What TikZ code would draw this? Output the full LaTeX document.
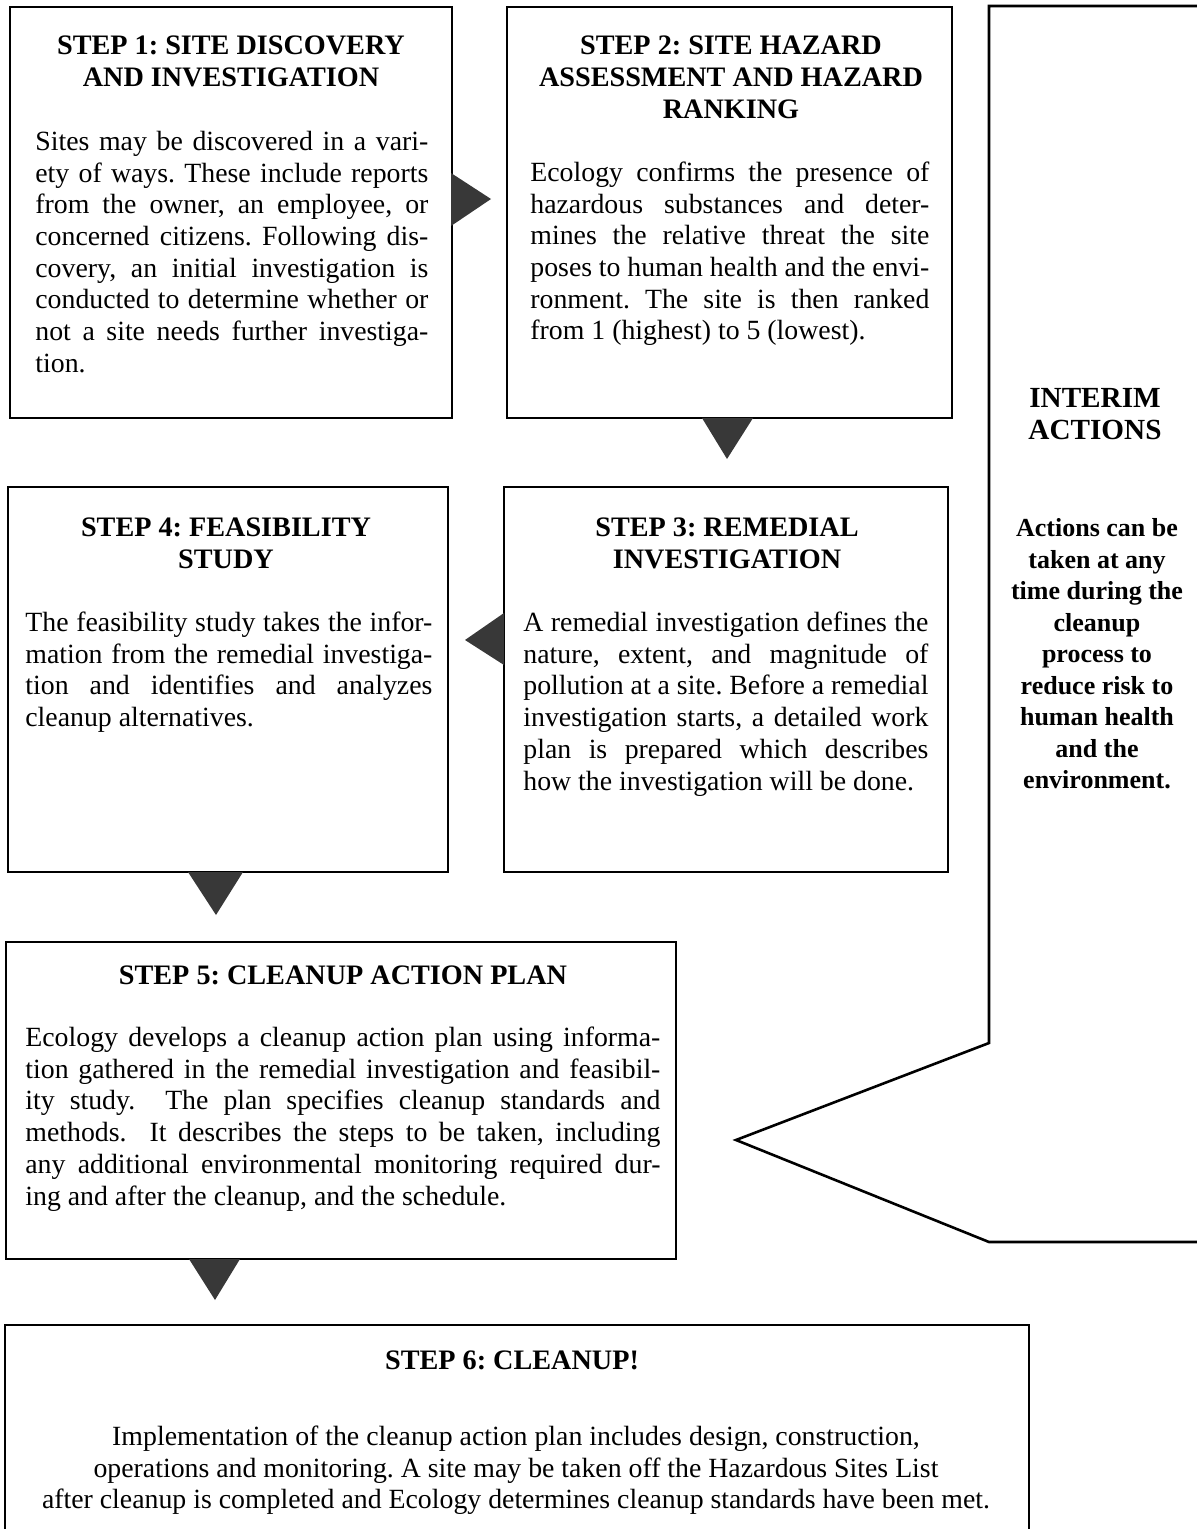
\documentclass[tikz,border=0pt]{standalone}
\usepackage{fontspec}
\setmainfont{Liberation Serif}
\frenchspacing
\hfuzz=40pt \hbadness=10000 \lineskiplimit=-20pt
\newcommand\JL[1]{\hbox to\hsize{#1}}
\newcommand\LL[1]{\hbox to\hsize{#1\hfil}}
\newcommand\CL[1]{\hbox to\hsize{\hfil#1\hfil}}
\newcommand\bodyfont{\fontsize{13.9}{15.85}\selectfont}
\newcommand\titlefont{\fontsize{14.1}{16}\selectfont\bfseries}
\newcommand\intfont{\fontsize{13}{15.75}\selectfont\bfseries}
\newcommand\inttitlefont{\fontsize{14.6}{16}\selectfont\bfseries}
\tikzset{
  boxline/.style={draw=black, line width=1.3pt, line join=miter},
  tri/.style={fill=black!78},
  ctext/.style={inner sep=0pt, anchor=base},
  ltext/.style={inner sep=0pt, anchor=base west},
}
\begin{document}
\begin{tikzpicture}[x=0.5pt,y=-0.5pt]
\useasboundingbox (0,0) rectangle (1197,1529);
\clip (0,0) rectangle (1197,1529);
% box corners
\coordinate (s1nw) at (10,7);   \coordinate (s1se) at (452,418);
\coordinate (s2nw) at (507,7);  \coordinate (s2se) at (952,418);
\coordinate (s4nw) at (8,487);  \coordinate (s4se) at (448,872);
\coordinate (s3nw) at (504,487);\coordinate (s3se) at (948,872);
\coordinate (s5nw) at (6,942);  \coordinate (s5se) at (676,1259);
\coordinate (s6nw) at (5,1325); \coordinate (s6se) at (1029,1560);
\draw[boxline] (s1nw) rectangle (s1se);
\draw[boxline] (s2nw) rectangle (s2se);
\draw[boxline] (s4nw) rectangle (s4se);
\draw[boxline] (s3nw) rectangle (s3se);
\draw[boxline] (s5nw) rectangle (s5se);
\draw[boxline] (s6nw) rectangle (s6se);
% interim callout
\coordinate (ia) at (1220,6);
\coordinate (ib) at (989,6);
\coordinate (ic) at (989,1043);
\coordinate (ip) at (736,1140);
\coordinate (id) at (989,1242);
\coordinate (ie) at (1220,1242);
\draw[boxline] (ia) -- (ib) -- (ic) -- (ip) -- (id) -- (ie);
% arrows between steps
\fill[tri] (451,173) -- (491,199) -- (451,226) -- cycle;
\fill[tri] (702,418) -- (753,418) -- (727,459) -- cycle;
\fill[tri] (504,613) -- (465,640) -- (504,665) -- cycle;
\fill[tri] (188,872) -- (243,872) -- (216,915) -- cycle;
\fill[tri] (189,1259) -- (240,1259) -- (215,1300) -- cycle;
% step 1
\node[ctext] (s1t) at (231,55) {\vtop{\hsize=220pt\titlefont
  \CL{STEP 1: SITE DISCOVERY}\CL{AND INVESTIGATION}}};
\node[ltext] (s1b) at (35,150.5) {\vtop{\hsize=196.5pt\bodyfont
  \JL{Sites may be discovered in a vari-}%
  \JL{ety of ways. These include reports}%
  \JL{from the owner, an employee, or}%
  \JL{concerned citizens. Following dis-}%
  \JL{covery, an initial investigation is}%
  \JL{conducted to determine whether or}%
  \JL{not a site needs further investiga-}%
  \LL{tion.}}};
% step 2
\node[ctext] (s2t) at (731,55) {\vtop{\hsize=220pt\titlefont
  \CL{STEP 2: SITE HAZARD}\CL{ASSESSMENT AND HAZARD}\CL{RANKING}}};
\node[ltext] (s2b) at (530,181.5) {\vtop{\hsize=199.5pt\bodyfont
  \JL{Ecology confirms the presence of}%
  \JL{hazardous substances and deter-}%
  \JL{mines the relative threat the site}%
  \JL{poses to human health and the envi-}%
  \JL{ronment. The site is then ranked}%
  \LL{from 1 (highest) to 5 (lowest).}}};
% step 4
\node[ctext] (s4t) at (226,536) {\vtop{\hsize=220pt\titlefont
  \CL{STEP 4: FEASIBILITY}\CL{STUDY}}};
\node[ltext] (s4b) at (25,631.5) {\vtop{\hsize=203.5pt\bodyfont
  \JL{The feasibility study takes the infor-}%
  \JL{mation from the remedial investiga-}%
  \JL{tion and identifies and analyzes}%
  \LL{cleanup alternatives.}}};
% step 3
\node[ctext] (s3t) at (727,536) {\vtop{\hsize=220pt\titlefont
  \CL{STEP 3: REMEDIAL}\CL{INVESTIGATION}}};
\node[ltext] (s3b) at (523,631.5) {\vtop{\hsize=202.5pt\bodyfont
  \JL{A remedial investigation defines the}%
  \JL{nature, extent, and magnitude of}%
  \JL{pollution at a site. Before a remedial}%
  \JL{investigation starts, a detailed work}%
  \JL{plan is prepared which describes}%
  \LL{how the investigation will be done.}}};
% step 5
\node[ctext] (s5t) at (343,984.5) {\vtop{\hsize=320pt\titlefont
  \CL{STEP 5: CLEANUP ACTION PLAN}}};
\node[ltext] (s5b) at (25,1046.5) {\vtop{\hsize=317.5pt\bodyfont
  \JL{Ecology develops a cleanup action plan using informa-}%
  \JL{tion gathered in the remedial investigation and feasibil-}%
  \JL{ity study.\ \ The plan specifies cleanup standards and}%
  \JL{methods.\ \ It describes the steps to be taken, including}%
  \JL{any additional environmental monitoring required dur-}%
  \LL{ing and after the cleanup, and the schedule.}}};
% step 6
\node[ctext] (s6t) at (512,1369.5) {\vtop{\hsize=400pt\titlefont
  \CL{STEP 6: CLEANUP!}}};
\node[ctext] (s6b) at (516,1445.5) {\vtop{\hsize=500pt\bodyfont
  \CL{Implementation of the cleanup action plan includes design, construction,}%
  \CL{operations and monitoring. A site may be taken off the Hazardous Sites List}%
  \CL{after cleanup is completed and Ecology determines cleanup standards have been met.}}};
% interim actions
\node[ctext] (it) at (1095,407.5) {\vtop{\hsize=100pt\inttitlefont
  \CL{INTERIM}\CL{ACTIONS}}};
\node[ctext] (ibody) at (1097,536.5) {\vtop{\hsize=100pt\intfont
  \CL{Actions can be}\CL{taken at any}\CL{time during the}\CL{cleanup}%
  \CL{process to}\CL{reduce risk to}\CL{human health}\CL{and the}\CL{environment.}}};
\end{tikzpicture}
\end{document}
